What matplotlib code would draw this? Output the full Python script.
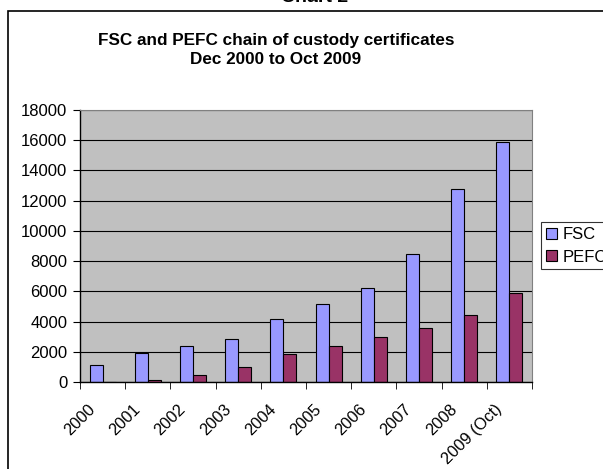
import matplotlib
matplotlib.use('Agg')
import matplotlib.pyplot as plt
import matplotlib.transforms as mtransforms
from matplotlib.patches import Rectangle
import numpy as np

plt.rcParams['font.family'] = ['Liberation Sans', 'DejaVu Sans']

years = ['2000', '2001', '2002', '2003', '2004', '2005', '2006', '2007', '2008', '2009 (Oct)']
fsc = [1100, 1900, 2400, 2850, 4150, 5150, 6250, 8500, 12800, 15850]
pefc = [0, 100, 450, 1000, 1850, 2350, 2950, 3550, 4450, 5900]

W, H = 603, 469
fig = plt.figure(figsize=(W / 100, H / 100), dpi=100)

# outer chart border (clipped on right and bottom like the screenshot)
fig.add_artist(Rectangle((7.5 / W, -0.1), 1.2, 1.1 - 11 / H,
                         transform=fig.transFigure, fill=False,
                         edgecolor='black', linewidth=1.2))
fig.text(315 / W, 1 - 1.5 / H, 'Chart 2', ha='center', va='baseline',
         fontsize=14, fontweight='bold')
fig.text(276 / W, 1 - 41 / H, 'FSC and PEFC chain of custody certificates',
         ha='center', va='center', fontsize=12.3, fontweight='bold')
fig.text(276 / W, 1 - 59 / H, 'Dec 2000 to Oct 2009',
         ha='center', va='center', fontsize=12.3, fontweight='bold')

left, right, top, bottom = 80, 532, 110, 382
ax = fig.add_axes([left / W, 1 - bottom / H, (right - left) / W, (bottom - top) / H])
ax.set_facecolor('#C0C0C0')

x = np.arange(len(years))
bw = 1 / 3.5
ax.bar(x - bw / 2, fsc, bw, color='#9999FF', edgecolor='black', linewidth=0.8, label='FSC')
ax.bar(x + bw / 2, pefc, bw, color='#993366', edgecolor='black', linewidth=0.8, label='PEFC')

ax.set_xlim(-0.5, len(years) - 0.5)
ax.set_ylim(0, 18000)
ax.set_yticks(np.arange(0, 18001, 2000))
ax.yaxis.grid(True, color='black', linewidth=0.8)
ax.set_axisbelow(True)

ax.set_xticks(x)
ax.set_xticklabels(years, rotation=45, ha='right', rotation_mode='anchor', fontsize=11.8)
ax.tick_params(axis='x', length=0, pad=14)
shift = mtransforms.ScaledTranslation(-15 / 100, 0, fig.dpi_scale_trans)
for lbl in ax.get_xticklabels():
    lbl.set_transform(lbl.get_transform() + shift)
ax.set_xticks(np.arange(-0.5, len(years)), minor=True)
ax.tick_params(axis='x', which='minor', length=5, color='black', direction='out')
ax.tick_params(axis='y', labelsize=12, length=5, direction='out', pad=4)

for s in ['top', 'right']:
    ax.spines[s].set_color('#808080')
    ax.spines[s].set_linewidth(0.8)
for s in ['left', 'bottom']:
    ax.spines[s].set_color('black')
    ax.spines[s].set_linewidth(1)

leg = fig.legend(loc='upper left', bbox_to_anchor=(541 / W, 1 - 222 / H),
                 fontsize=12, frameon=True, fancybox=False, edgecolor='black',
                 handlelength=0.65, handleheight=0.65, handletextpad=0.35,
                 borderpad=0.3, labelspacing=0.45, borderaxespad=0)
leg.get_frame().set_linewidth(0.8)

fig.savefig('out.png', dpi=100)
